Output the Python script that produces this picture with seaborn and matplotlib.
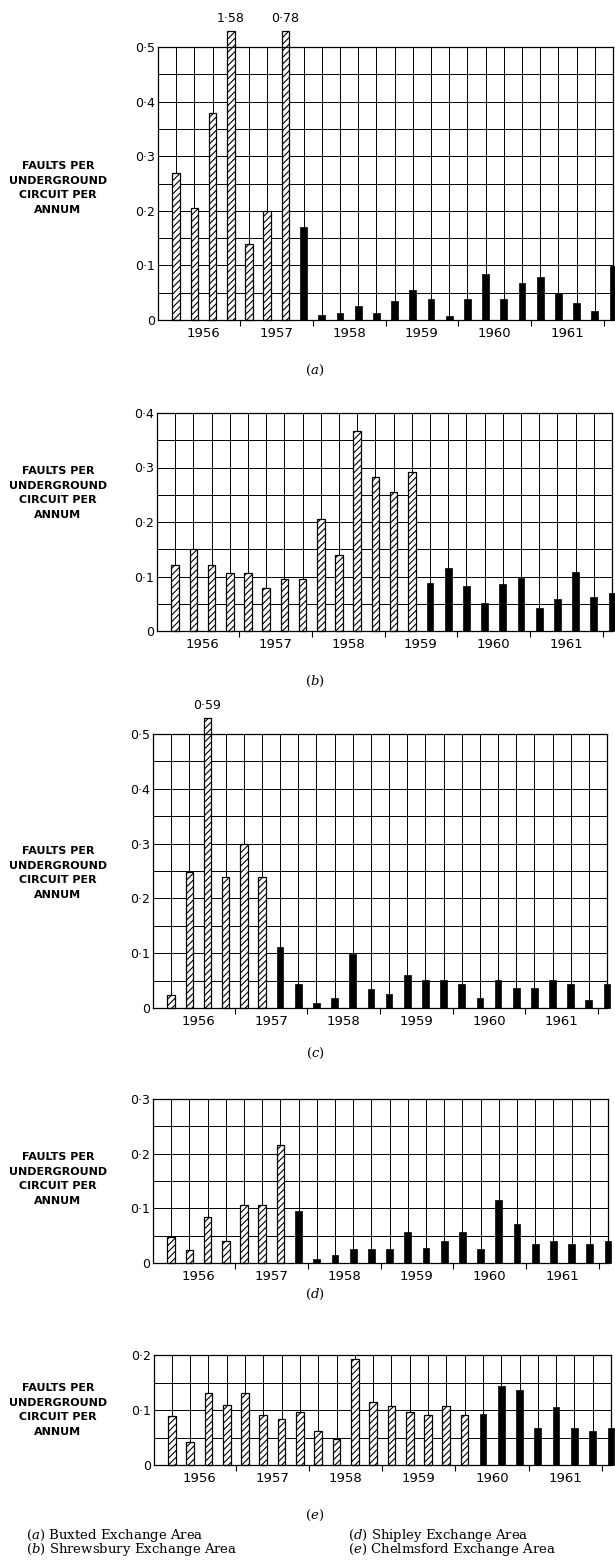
import numpy as np
import pandas as pd
import matplotlib
matplotlib.use("Agg")
import matplotlib.pyplot as plt
import seaborn as sns

# Datos (faltas por circuito subterráneo y año, por trimestre)
years = [1956, 1957, 1958, 1959, 1960, 1961]
quarters = list(range(1, 26))  # 1956 T1 ... 1962 T1

buxted = [0.27, 0.205, 0.38, 1.58, 0.14, 0.20, 0.78, 0.17, 0.01, 0.013, 0.026, 0.013,
          0.035, 0.055, 0.038, 0.008, 0.038, 0.084, 0.038, 0.067, 0.079, 0.049, 0.032,
          0.016, 0.098]
shrewsbury = [0.121, 0.150, 0.121, 0.106, 0.106, 0.079, 0.095, 0.095, 0.205, 0.140,
              0.367, 0.282, 0.255, 0.292, 0.088, 0.115, 0.083, 0.051, 0.086, 0.097,
              0.042, 0.059, 0.109, 0.062, 0.070]
panel_c = [0.023, 0.248, 0.59, 0.239, 0.299, 0.239, 0.111, 0.043, 0.010, 0.018, 0.099,
           0.034, 0.026, 0.061, 0.052, 0.052, 0.043, 0.018, 0.052, 0.036, 0.036, 0.052,
           0.043, 0.014, 0.044]
shipley = [0.048, 0.024, 0.084, 0.040, 0.107, 0.107, 0.215, 0.095, 0.007, 0.015, 0.026,
           0.026, 0.026, 0.057, 0.027, 0.040, 0.057, 0.026, 0.116, 0.072, 0.034, 0.040,
           0.034, 0.035, 0.041]
chelmsford = [0.089, 0.042, 0.131, 0.110, 0.131, 0.091, 0.084, 0.097, 0.061, 0.047,
              0.192, 0.115, 0.107, 0.097, 0.091, 0.107, 0.091, 0.093, 0.144, 0.136,
              0.067, 0.106, 0.068, 0.062, 0.068]

# número de barras rayadas (antiguas) al principio de cada serie
n_rayadas = {"a": 7, "b": 14, "c": 6, "d": 7, "e": 17}
y_max = {"a": 0.5, "b": 0.4, "c": 0.5, "d": 0.3, "e": 0.2}

captions = [r"($\mathit{a}$) Buxted Exchange Area", r"($\mathit{b}$) Shrewsbury Exchange Area",
            r"($\mathit{d}$) Shipley Exchange Area", r"($\mathit{e}$) Chelmsford Exchange Area"]

sns.set_style("ticks")
plt.rcParams["font.family"] = ["DejaVu Sans"]
plt.rcParams["mathtext.fontset"] = "dejavuserif"
plt.rcParams["hatch.linewidth"] = 0.8
for k in ["text.color", "xtick.color", "ytick.color", "axes.labelcolor", "axes.edgecolor"]:
    plt.rcParams[k] = "black"

W, H = 615, 1563
fig = plt.figure(figsize=(W / 100, H / 100), dpi=100)

# caja de cada panel en píxeles: izquierda, arriba, derecha, abajo
cajas = {"a": (158, 47, 613, 320), "b": (157, 413, 612, 631), "c": (153, 734, 607, 1008),
         "d": (153, 1099, 608, 1263), "e": (153.5, 1355, 611, 1465)}
centro_etiqueta = {"a": 188, "b": 493, "c": 873, "d": 1179, "e": 1410}
y_letra = {"a": 370, "b": 681, "c": 1053, "d": 1294, "e": 1515}
series = {"a": buxted, "b": shrewsbury, "c": panel_c, "d": shipley, "e": chelmsford}


def fmt(v):
    return "0" if v == 0 else f"{v:.1f}".replace(".", "·")


for clave, valores in series.items():
    l, t, r, b = cajas[clave]
    ax = fig.add_axes([l / W, 1 - b / H, (r - l) / W, (b - t) / H])
    ymax = y_max[clave]
    vals = np.array(valores)
    tope = ymax + 0.03
    df = pd.DataFrame({
        "trimestre": quarters,
        "faltas": np.minimum(vals, tope),
        "tipo": ["rayada" if i < n_rayadas[clave] else "negra" for i in range(len(vals))],
    })

    sns.barplot(data=df[df["tipo"] == "rayada"], x="trimestre", y="faltas", native_scale=True,
                width=0.42, color="white", edgecolor="black", linewidth=0.9, hatch="/////",
                saturation=1, errorbar=None, ax=ax)
    sns.barplot(data=df[df["tipo"] == "negra"], x="trimestre", y="faltas", native_scale=True,
                width=0.37, color="black", edgecolor="black", linewidth=0.5,
                saturation=1, errorbar=None, ax=ax)
    for p in ax.patches:
        p.set_clip_on(False)

    # valores que se salen de la escala
    for q, v in zip(quarters, vals):
        if v > ymax:
            ax.annotate(f"{v:.2f}".replace(".", "·"), xy=(q, tope), xytext=(0, 4),
                        textcoords="offset points", ha="center", va="bottom", fontsize=9,
                        annotation_clip=False)

    ax.set_xlim(0, 25)
    ax.set_ylim(0, ymax)
    ax.set_xlabel("")
    ax.set_ylabel("")
    ax.set_axisbelow(True)

    ax.set_xticks(range(0, 26))
    ax.set_xticklabels([])
    ax.tick_params(axis="x", length=0)
    yt = np.round(np.arange(0, ymax + 0.001, 0.1), 2)
    ax.set_yticks(yt)
    ax.set_yticklabels([fmt(v) for v in yt], fontsize=9)
    ax.set_yticks(np.round(np.arange(0.05, ymax, 0.1), 2), minor=True)
    ax.tick_params(axis="y", which="both", length=0, pad=2)
    ax.grid(axis="x", color="black", linewidth=0.7)
    ax.grid(axis="y", which="both", color="black", linewidth=0.7)
    for s in ax.spines.values():
        s.set_visible(True)
        s.set_color("black")
        s.set_linewidth(0.9)

    # años debajo del eje
    sec = ax.secondary_xaxis("bottom")
    sec.set_xticks([2.5 + 4 * i for i in range(len(years))], labels=[str(y) for y in years])
    sec.set_xticks([4.5 + 4 * i for i in range(len(years) - 1)] + [24.5], minor=True)
    sec.tick_params(which="major", length=0, pad=5, labelsize=9.5)
    sec.tick_params(which="minor", length=4, width=0.8, direction="out")
    sec.spines["bottom"].set_visible(False)

    fig.text(58 / W, 1 - centro_etiqueta[clave] / H,
             "FAULTS PER\nUNDERGROUND\nCIRCUIT PER\nANNUM",
             ha="center", va="center", fontsize=8, fontweight="bold", linespacing=1.55,
             multialignment="center")
    fig.text(315 / W, 1 - y_letra[clave] / H, f"($\\mathit{{{clave}}}$)",
             ha="center", va="center", fontsize=9.5, family="DejaVu Serif")

# pies de figura
pos = [(26, 1535), (26, 1550), (348, 1535), (348, 1550)]
for (x, y), txt in zip(pos, captions):
    fig.text(x / W, 1 - y / H, txt, ha="left", va="center", fontsize=9.5, family="DejaVu Serif")

plt.savefig("out.png", dpi=100)
